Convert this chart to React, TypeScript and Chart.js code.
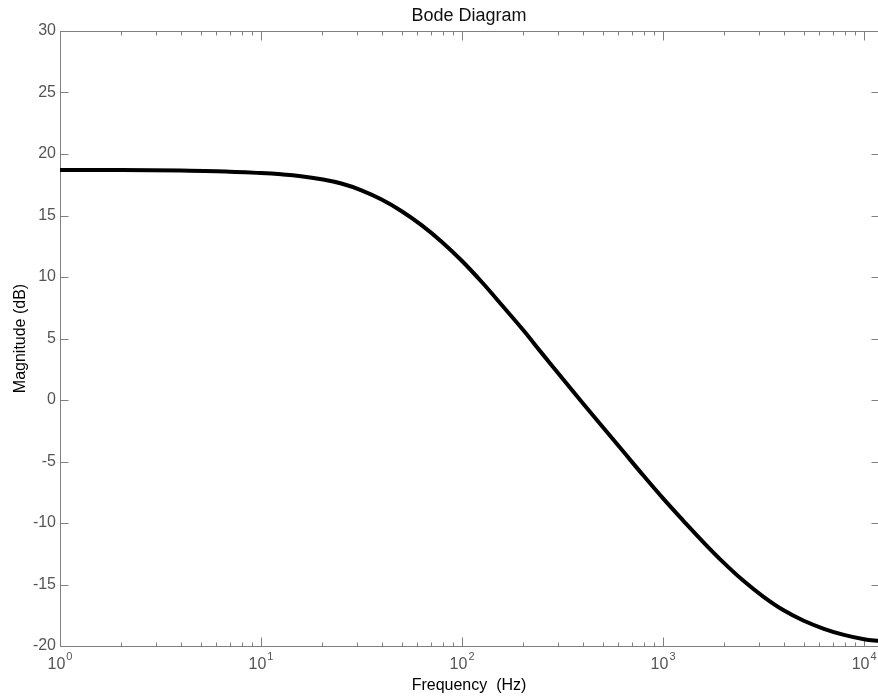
import React, { useEffect, useRef } from "react";
import { Chart, registerables } from "chart.js";

Chart.register(...registerables);

// ---- Data ----
const freqHz = [1, 2, 4, 6, 10, 12.6, 15.8, 20, 25.1, 31.6, 39.8, 50.1, 63.1, 79.4, 100, 126, 158, 200, 251, 316, 398, 501, 631, 794, 1000, 1259, 1585, 1995, 2512, 3162, 3981, 5012, 6310, 7943, 10000, 12000];
const magnitudeDb = [18.7, 18.7, 18.65, 18.6, 18.45, 18.35, 18.2, 17.95, 17.6, 17.05, 16.3, 15.35, 14.2, 12.85, 11.3, 9.55, 7.7, 5.75, 3.75, 1.75, -0.25, -2.2, -4.15, -6.1, -8.0, -9.8, -11.55, -13.2, -14.7, -16.0, -17.1, -17.95, -18.6, -19.1, -19.45, -19.6];

const xDecadeExponents = [0, 1, 2, 3, 4];
const xMin = 1;
const xMax = 12000;
const yMin = -20;
const yMax = 30;
const yStep = 5;

const titleText = "Bode Diagram";
const xAxisLabel = "Frequency  (Hz)";
const yAxisLabel = "Magnitude (dB)";

const FONT = '"Liberation Sans", Arial, Helvetica, sans-serif';

const framePlugin = {
  id: "matlabFrame",
  beforeDatasetsDraw(chart: any) {
    const { ctx, chartArea: a, scales } = chart;
    const xs = scales.x;
    const ys = scales.y;
    const L = Math.round(a.left) + 0.5;
    const R = Math.round(a.right) - 0.5;
    const T = Math.round(a.top) + 0.5;
    const B = Math.round(a.bottom) + 0.5;
    ctx.save();
    ctx.strokeStyle = "#7f7f7f";
    ctx.lineWidth = 1;
    ctx.beginPath();
    ctx.moveTo(L, T);
    ctx.lineTo(R, T);
    ctx.moveTo(R, T);
    ctx.lineTo(R, B);
    ctx.moveTo(L, T);
    ctx.lineTo(L, B);
    ctx.moveTo(L, B);
    ctx.lineTo(R, B);
    for (let v = yMin; v <= yMax; v += yStep) {
      const py = Math.round(ys.getPixelForValue(v)) + 0.5;
      ctx.moveTo(L, py);
      ctx.lineTo(L + 8, py);
      ctx.moveTo(R, py);
      ctx.lineTo(R - 8, py);
    }
    for (const e of xDecadeExponents) {
      const base = Math.pow(10, e);
      for (let m = 1; m <= 9; m++) {
        const v = base * m;
        if (v < xMin || v > xMax) continue;
        const px = Math.round(xs.getPixelForValue(v)) + 0.5;
        const len = m === 1 ? 9 : 4;
        ctx.moveTo(px, B);
        ctx.lineTo(px, B - len);
        ctx.moveTo(px, T);
        ctx.lineTo(px, T + len);
      }
    }
    ctx.stroke();
    ctx.restore();
  },
  afterDraw(chart: any) {
    const { ctx, chartArea: a, scales } = chart;
    const xs = scales.x;
    ctx.save();
    ctx.fillStyle = "#111";
    ctx.font = `18px ${FONT}`;
    ctx.textAlign = "center";
    ctx.textBaseline = "alphabetic";
    const cx = (a.left + a.right) / 2 - 1;
    ctx.fillText(titleText, cx, 21);
    ctx.fillStyle = "#555";
    ctx.textAlign = "left";
    for (const e of xDecadeExponents) {
      const px = xs.getPixelForValue(Math.pow(10, e));
      ctx.font = `16px ${FONT}`;
      const wb = ctx.measureText("10").width;
      ctx.font = `11px ${FONT}`;
      const sup = String(e);
      const ws = ctx.measureText(sup).width;
      const start = px - (wb + 1 + ws) / 2;
      ctx.font = `16px ${FONT}`;
      ctx.fillText("10", start, 669);
      ctx.font = `11px ${FONT}`;
      ctx.fillText(sup, start + wb + 1, 660);
    }
    ctx.fillStyle = "#000";
    ctx.font = `16px ${FONT}`;
    ctx.textAlign = "center";
    ctx.fillText(xAxisLabel, cx, 690);
    ctx.translate(25, (a.top + a.bottom) / 2);
    ctx.rotate(-Math.PI / 2);
    ctx.fillText(yAxisLabel, 0, 0);
    ctx.restore();
  },
};

export default function App() {
  const canvasRef = useRef<HTMLCanvasElement | null>(null);

  useEffect(() => {
    if (!canvasRef.current) return;
    const points = freqHz.map((f, i) => ({ x: f, y: magnitudeDb[i] }));
    const chart = new Chart(canvasRef.current, {
      type: "line",
      data: {
        datasets: [
          {
            data: points,
            borderColor: "#000",
            borderWidth: 4,
            pointRadius: 0,
            fill: false,
            tension: 0.4,
            borderJoinStyle: "round",
            borderCapStyle: "round",
          },
        ],
      },
      options: {
        animation: false,
        responsive: false,
        devicePixelRatio: 1,
        layout: { padding: { top: 31, right: 4, left: 0, bottom: 0 } },
        plugins: {
          legend: { display: false },
          tooltip: { enabled: false },
          title: { display: false },
        },
        scales: {
          x: {
            type: "logarithmic",
            min: xMin,
            max: xMax,
            grid: { display: false },
            border: { display: false },
            ticks: { display: false },
            afterFit: (s: any) => {
              s.height = 50;
            },
          },
          y: {
            type: "linear",
            min: yMin,
            max: yMax,
            grid: { display: false, drawTicks: false },
            border: { display: false },
            ticks: {
              stepSize: yStep,
              color: "#555",
              padding: 4,
              font: { family: FONT, size: 16 },
            },
            afterFit: (s: any) => {
              s.width = 60;
            },
          },
        },
      },
      plugins: [framePlugin],
    } as any);
    return () => chart.destroy();
  }, []);

  return (
    <div style={{ position: "fixed", left: 0, top: 0, width: 884, height: 696, background: "#fff" }}>
      <canvas ref={canvasRef} width={884} height={696} style={{ width: 884, height: 696, display: "block" }} />
    </div>
  );
}
